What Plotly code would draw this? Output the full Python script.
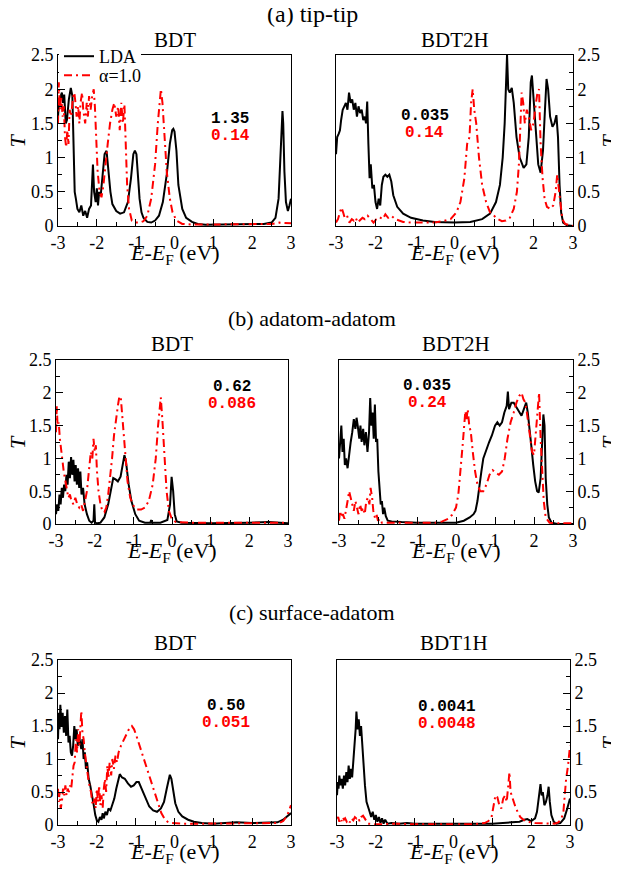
import plotly.graph_objects as go

# ---------------- data (energy E-E_F in eV, transmission T) ----------------
aL_lda = [(-3.0,1.6),(-2.97,1.85),(-2.93,1.9),(-2.9,1.95),(-2.87,1.8),(-2.84,1.92),(-2.8,1.5),(-2.77,1.55),
          (-2.72,1.85),(-2.67,2.02),(-2.63,1.9),(-2.6,1.3),(-2.57,0.5),(-2.54,0.4),(-2.5,0.25),(-2.45,0.2),
          (-2.4,0.3),(-2.35,0.15),(-2.3,0.22),(-2.25,0.12),(-2.2,0.25),(-2.15,0.3),(-2.12,0.85),(-2.1,0.9),
          (-2.07,0.5),(-2.03,0.35),(-2.0,0.55),(-1.97,0.3),(-1.94,0.5),(-1.9,0.45),(-1.85,0.75),(-1.8,1.05),
          (-1.75,1.1),(-1.7,0.8),(-1.65,0.5),(-1.6,0.32),(-1.5,0.22),(-1.4,0.18),(-1.3,0.2),(-1.2,0.35),
          (-1.12,0.7),(-1.06,1.05),(-1.02,1.1),(-0.98,1.05),(-0.94,0.75),(-0.9,0.4),(-0.85,0.2),(-0.8,0.12),
          (-0.7,0.06),(-0.6,0.05),(-0.5,0.08),(-0.4,0.15),(-0.3,0.35),(-0.2,0.75),(-0.12,1.2),(-0.06,1.4),
          (-0.03,1.42),(0.0,1.38),(0.05,1.1),(0.1,0.6),(0.2,0.25),(0.3,0.12),(0.45,0.06),(0.6,0.03),
          (0.8,0.02),(1.0,0.02),(1.5,0.02),(2.0,0.02),(2.3,0.03),(2.5,0.05),(2.6,0.12),(2.68,0.4),
          (2.73,1.0),(2.76,1.5),(2.78,1.68),(2.8,1.5),(2.83,0.8),(2.87,0.35),(2.92,0.22),(2.96,0.3),(3.0,0.4)]
aL_a = [(-3.0,1.5),(-2.98,2.1),(-2.95,1.7),(-2.92,1.9),(-2.88,1.6),(-2.85,1.75),(-2.82,1.3),(-2.79,1.15),
        (-2.76,1.4),(-2.73,1.2),(-2.7,1.7),(-2.66,1.6),(-2.62,1.85),(-2.58,1.95),(-2.55,1.8),(-2.52,1.6),
        (-2.48,1.75),(-2.45,1.5),(-2.42,1.8),(-2.38,1.95),(-2.35,1.7),(-2.3,1.5),(-2.26,1.8),(-2.23,1.6),
        (-2.2,1.9),(-2.16,1.7),(-2.12,1.9),(-2.08,2.0),(-2.05,1.75),(-2.02,1.3),(-1.98,0.8),(-1.93,0.5),
        (-1.88,0.42),(-1.83,0.6),(-1.78,0.9),(-1.72,1.2),(-1.66,1.5),(-1.6,1.7),(-1.55,1.8),(-1.5,1.6),
        (-1.45,1.75),(-1.41,1.4),(-1.37,1.8),(-1.33,1.5),(-1.29,1.78),(-1.26,1.2),(-1.22,0.6),(-1.17,0.25),
        (-1.1,0.08),(-1.0,0.05),(-0.9,0.05),(-0.8,0.07),(-0.7,0.15),(-0.6,0.4),(-0.5,0.9),(-0.43,1.5),
        (-0.38,1.9),(-0.35,2.0),(-0.31,1.8),(-0.26,1.3),(-0.2,0.8),(-0.12,0.4),(-0.05,0.2),(0.05,0.08),
        (0.2,0.03),(0.5,0.02),(1.0,0.02),(1.5,0.02),(2.0,0.02),(2.5,0.03),(2.7,0.05),(2.85,0.04),(3.0,0.04)]

aR_lda = [(-3.0,1.05),(-2.97,1.3),(-2.93,1.35),(-2.9,1.4),(-2.87,1.55),(-2.83,1.7),(-2.79,1.75),(-2.75,1.8),
          (-2.71,1.7),(-2.67,1.95),(-2.63,1.8),(-2.59,1.85),(-2.55,1.7),(-2.51,1.8),(-2.47,1.6),(-2.43,1.75),
          (-2.39,1.65),(-2.35,1.7),(-2.31,1.55),(-2.27,1.6),(-2.24,1.5),(-2.21,1.82),(-2.18,1.2),(-2.15,0.7),
          (-2.12,0.9),(-2.08,0.55),(-2.04,0.6),(-2.0,0.35),(-1.96,0.25),(-1.92,0.4),(-1.88,0.3),(-1.84,0.6),
          (-1.8,0.72),(-1.75,0.75),(-1.7,0.72),(-1.65,0.75),(-1.6,0.65),(-1.55,0.45),(-1.45,0.28),(-1.3,0.18),
          (-1.1,0.12),(-0.8,0.08),(-0.5,0.06),(0.0,0.05),(0.4,0.06),(0.7,0.1),(0.9,0.18),(1.05,0.35),
          (1.15,0.6),(1.22,1.0),(1.27,1.5),(1.31,2.2),(1.33,2.5),(1.36,2.0),(1.4,1.95),(1.45,2.02),
          (1.5,1.8),(1.57,1.3),(1.65,1.0),(1.75,0.85),(1.82,0.9),(1.88,1.3),(1.93,2.1),(1.96,2.2),
          (2.0,1.9),(2.06,1.4),(2.12,0.9),(2.18,0.78),(2.24,1.1),(2.29,1.7),(2.33,2.15),(2.37,2.0),
          (2.42,1.6),(2.48,1.45),(2.53,1.5),(2.58,1.62),(2.62,1.3),(2.66,0.6),(2.7,0.2),(2.75,0.05),
          (2.85,0.01),(3.0,0.0)]
aR_a = [(-3.0,0.05),(-2.95,0.1),(-2.9,0.2),(-2.86,0.27),(-2.82,0.2),(-2.78,0.12),(-2.72,0.15),(-2.66,0.05),
        (-2.6,0.1),(-2.55,0.08),(-2.5,0.12),(-2.45,0.05),(-2.4,0.08),(-2.33,0.12),(-2.27,0.1),(-2.2,0.15),
        (-2.12,0.1),(-2.05,0.05),(-1.98,0.1),(-1.9,0.13),(-1.82,0.1),(-1.75,0.17),(-1.68,0.12),(-1.6,0.15),
        (-1.5,0.1),(-1.4,0.08),(-1.3,0.06),(-1.1,0.05),(-0.8,0.05),(-0.5,0.05),(-0.3,0.07),(-0.1,0.1),
        (0.05,0.2),(0.15,0.35),(0.25,0.7),(0.32,1.2),(0.38,1.3),(0.42,1.8),(0.46,2.0),(0.5,1.7),
        (0.55,1.5),(0.62,1.0),(0.7,0.6),(0.8,0.35),(0.9,0.2),(1.0,0.15),(1.1,0.1),(1.2,0.07),(1.3,0.08),
        (1.4,0.12),(1.5,0.25),(1.58,0.5),(1.63,0.9),(1.67,1.5),(1.7,1.95),(1.74,1.8),(1.78,1.5),(1.83,1.7),
        (1.88,1.6),(1.94,1.4),(2.0,1.5),(2.05,1.75),(2.1,1.95),(2.14,2.0),(2.18,1.2),(2.23,0.7),(2.28,0.4),
        (2.34,0.28),(2.42,0.25),(2.5,0.3),(2.56,0.5),(2.6,0.75),(2.64,0.55),(2.68,0.3),(2.73,0.1),
        (2.8,0.03),(3.0,0.0)]

bL_lda = [(-3.0,0.15),(-2.97,0.3),(-2.94,0.2),(-2.91,0.45),(-2.88,0.3),(-2.85,0.55),(-2.82,0.4),(-2.79,0.6),
          (-2.76,0.5),(-2.73,0.75),(-2.7,0.6),(-2.67,0.95),(-2.64,0.7),(-2.61,1.02),(-2.58,0.75),(-2.55,0.98),
          (-2.52,0.65),(-2.49,0.9),(-2.46,0.6),(-2.43,0.85),(-2.4,0.55),(-2.37,0.8),(-2.34,0.45),(-2.3,0.55),
          (-2.26,0.3),(-2.2,0.15),(-2.14,0.05),(-2.08,0.02),(-2.03,0.05),(-2.01,0.3),(-1.99,0.02),(-1.93,0.01),
          (-1.85,0.02),(-1.75,0.1),(-1.65,0.3),(-1.58,0.55),(-1.52,0.7),(-1.46,0.68),(-1.4,0.65),(-1.33,0.72),
          (-1.27,0.9),(-1.23,1.05),(-1.19,0.95),(-1.12,0.6),(-1.05,0.35),(-0.95,0.15),(-0.85,0.05),(-0.7,0.02),
          (-0.56,0.02),(-0.54,0.06),(-0.52,0.02),(-0.3,0.02),(-0.12,0.06),(-0.05,0.3),(-0.01,0.72),(0.03,0.5),
          (0.07,0.15),(0.12,0.04),(0.25,0.02),(1.0,0.01),(2.0,0.02),(2.5,0.03),(3.0,0.01)]
bL_a = [(-3.0,1.4),(-2.98,1.8),(-2.96,1.5),(-2.93,1.55),(-2.9,1.3),(-2.87,1.1),(-2.84,1.0),(-2.8,0.8),
        (-2.76,0.65),(-2.72,0.5),(-2.68,0.4),(-2.64,0.45),(-2.6,0.35),(-2.55,0.3),(-2.5,0.4),(-2.45,0.3),
        (-2.4,0.25),(-2.35,0.3),(-2.3,0.2),(-2.25,0.35),(-2.2,0.5),(-2.15,0.8),(-2.1,1.1),(-2.06,1.0),
        (-2.03,1.3),(-2.0,1.1),(-1.97,1.2),(-1.94,0.8),(-1.9,0.5),(-1.85,0.3),(-1.8,0.2),(-1.75,0.18),
        (-1.7,0.25),(-1.65,0.45),(-1.6,0.7),(-1.55,1.0),(-1.5,1.35),(-1.45,1.6),(-1.4,1.8),(-1.36,1.95),
        (-1.32,1.9),(-1.28,1.6),(-1.22,1.1),(-1.15,0.65),(-1.08,0.4),(-1.0,0.28),(-0.9,0.22),(-0.8,0.22),
        (-0.7,0.25),(-0.6,0.35),(-0.5,0.6),(-0.42,1.0),(-0.36,1.5),(-0.32,1.8),(-0.29,1.93),(-0.25,1.6),
        (-0.2,1.0),(-0.14,0.5),(-0.08,0.2),(0.0,0.07),(0.1,0.03),(0.5,0.02),(1.0,0.02),(2.0,0.02),
        (2.5,0.02),(2.9,0.02),(3.0,0.04)]

bR_lda = [(-3.0,1.0),(-2.97,1.2),(-2.94,1.5),(-2.91,1.1),(-2.88,1.3),(-2.85,0.9),(-2.82,1.0),(-2.78,0.85),
          (-2.74,1.1),(-2.7,1.25),(-2.66,1.4),(-2.62,1.6),(-2.58,1.45),(-2.55,1.62),(-2.52,1.5),(-2.48,1.3),
          (-2.45,1.5),(-2.42,1.25),(-2.38,1.45),(-2.35,1.2),(-2.31,1.4),(-2.27,1.1),(-2.23,1.4),(-2.2,1.92),
          (-2.17,1.5),(-2.14,1.7),(-2.11,1.3),(-2.08,1.82),(-2.05,1.25),(-2.02,1.3),(-1.99,0.8),(-1.96,0.5),
          (-1.93,0.3),(-1.9,0.35),(-1.87,0.15),(-1.84,0.25),(-1.8,0.12),(-1.75,0.05),(-1.65,0.04),(-1.4,0.03),
          (-1.0,0.02),(-0.5,0.02),(0.0,0.02),(0.2,0.05),(0.35,0.1),(0.45,0.15),(0.5,0.2),(0.55,0.35),
          (0.6,0.6),(0.65,0.8),(0.7,1.0),(0.78,1.15),(0.85,1.25),(0.92,1.35),(1.0,1.5),(1.06,1.55),
          (1.12,1.5),(1.18,1.55),(1.24,1.7),(1.3,1.8),(1.33,2.02),(1.36,1.75),(1.42,1.85),(1.48,1.85),
          (1.55,1.78),(1.62,1.7),(1.68,1.65),(1.74,1.75),(1.8,1.85),(1.84,1.7),(1.88,1.5),(1.93,1.2),
          (1.98,0.9),(2.03,0.65),(2.08,0.5),(2.12,0.48),(2.17,0.7),(2.2,1.2),(2.24,1.67),(2.27,1.5),
          (2.3,0.7),(2.34,0.3),(2.38,0.1),(2.45,0.02),(2.6,0.0),(3.0,0.0)]
bR_a = [(-3.0,0.05),(-2.97,0.2),(-2.94,0.1),(-2.9,0.15),(-2.86,0.08),(-2.82,0.2),(-2.78,0.35),(-2.74,0.5),
        (-2.7,0.4),(-2.66,0.3),(-2.62,0.2),(-2.58,0.35),(-2.54,0.25),(-2.5,0.15),(-2.46,0.3),(-2.42,0.2),
        (-2.38,0.25),(-2.34,0.15),(-2.3,0.35),(-2.26,0.4),(-2.22,0.3),(-2.19,0.55),(-2.15,0.4),(-2.12,0.2),
        (-2.08,0.1),(-2.04,0.15),(-2.0,0.05),(-1.95,0.08),(-1.9,0.02),(-1.7,0.02),(-1.0,0.02),(-0.5,0.02),
        (-0.35,0.04),(-0.2,0.08),(-0.1,0.14),(0.0,0.25),(0.06,0.45),(0.12,0.8),(0.17,1.2),(0.21,1.5),
        (0.24,1.72),(0.27,1.6),(0.3,1.75),(0.34,1.5),(0.38,1.4),(0.43,1.1),(0.49,0.8),(0.55,0.6),(0.62,0.5),
        (0.7,0.5),(0.78,0.6),(0.86,0.75),(0.94,0.82),(1.02,0.78),(1.1,0.75),(1.18,0.8),(1.25,1.0),(1.32,1.3),
        (1.4,1.55),(1.48,1.7),(1.55,1.85),(1.62,1.95),(1.68,2.0),(1.73,1.9),(1.78,1.85),(1.84,1.6),(1.9,1.3),
        (1.95,1.1),(2.0,1.05),(2.05,1.4),(2.1,1.8),(2.13,2.0),(2.17,1.3),(2.21,0.8),(2.25,0.35),(2.3,0.1),
        (2.4,0.02),(2.6,0.01),(3.0,0.01)]

cL_lda = [(-3.0,1.3),(-2.98,1.7),(-2.96,1.45),(-2.94,1.82),(-2.91,1.5),(-2.88,1.7),(-2.85,1.4),(-2.82,1.65),
          (-2.79,1.35),(-2.76,1.75),(-2.73,1.25),(-2.7,1.35),(-2.67,1.1),(-2.64,1.05),(-2.61,1.2),(-2.58,1.5),
          (-2.55,1.3),(-2.52,1.45),(-2.49,1.2),(-2.46,1.35),(-2.43,1.25),(-2.4,1.15),(-2.37,1.3),(-2.34,1.0),
          (-2.31,1.1),(-2.28,0.85),(-2.25,0.95),(-2.21,0.7),(-2.17,0.6),(-2.12,0.45),(-2.08,0.3),(-2.04,0.15),
          (-2.0,0.07),(-1.96,0.05),(-1.92,0.12),(-1.88,0.08),(-1.85,0.18),(-1.82,0.1),(-1.78,0.2),(-1.74,0.15),
          (-1.7,0.25),(-1.65,0.22),(-1.6,0.3),(-1.55,0.4),(-1.5,0.55),(-1.45,0.7),(-1.41,0.77),(-1.35,0.72),
          (-1.28,0.7),(-1.2,0.63),(-1.12,0.58),(-1.05,0.6),(-0.98,0.65),(-0.92,0.65),(-0.85,0.55),(-0.75,0.4),
          (-0.65,0.28),(-0.55,0.22),(-0.45,0.2),(-0.35,0.25),(-0.27,0.35),(-0.2,0.55),(-0.15,0.7),(-0.12,0.76),
          (-0.08,0.7),(-0.03,0.5),(0.02,0.33),(0.1,0.2),(0.2,0.13),(0.35,0.08),(0.5,0.05),(0.7,0.03),
          (1.0,0.02),(1.3,0.03),(1.6,0.04),(2.0,0.03),(2.4,0.03),(2.65,0.04),(2.8,0.08),(2.9,0.13),(3.0,0.18)]
cL_a = [(-3.0,0.55),(-2.98,0.35),(-2.96,0.5),(-2.93,0.25),(-2.9,0.35),(-2.87,0.55),(-2.84,0.45),(-2.81,0.6),
        (-2.78,0.45),(-2.75,0.55),(-2.72,0.5),(-2.69,0.6),(-2.66,0.55),(-2.63,0.8),(-2.6,0.9),(-2.57,0.95),
        (-2.54,1.3),(-2.51,1.1),(-2.48,1.45),(-2.45,1.2),(-2.42,1.5),(-2.4,1.73),(-2.37,1.4),(-2.34,1.3),
        (-2.31,1.1),(-2.28,0.95),(-2.25,0.8),(-2.22,0.7),(-2.19,0.6),(-2.15,0.5),(-2.12,0.35),(-2.09,0.3),
        (-2.06,0.4),(-2.03,0.25),(-2.0,0.55),(-1.97,0.35),(-1.94,0.6),(-1.91,0.3),(-1.88,0.45),(-1.85,0.25),
        (-1.82,0.55),(-1.79,0.7),(-1.76,0.5),(-1.73,0.9),(-1.7,0.7),(-1.67,0.95),(-1.63,0.75),(-1.6,1.0),
        (-1.56,0.85),(-1.52,1.05),(-1.48,0.95),(-1.44,1.1),(-1.38,1.2),(-1.3,1.3),(-1.22,1.4),(-1.15,1.48),
        (-1.1,1.5),(-1.04,1.45),(-0.98,1.35),(-0.9,1.2),(-0.82,1.05),(-0.74,0.9),(-0.66,0.75),(-0.58,0.6),
        (-0.5,0.45),(-0.42,0.3),(-0.34,0.18),(-0.26,0.1),(-0.18,0.05),(-0.1,0.03),(0.2,0.02),(0.6,0.02),
        (1.0,0.02),(1.5,0.02),(2.0,0.02),(2.5,0.02),(2.7,0.03),(2.8,0.06),(2.9,0.14),(3.0,0.3)]

cR_lda = [(-3.0,0.45),(-2.98,0.65),(-2.96,0.55),(-2.94,0.75),(-2.91,0.6),(-2.88,0.7),(-2.85,0.55),(-2.82,0.75),
          (-2.79,0.6),(-2.76,0.8),(-2.73,0.65),(-2.7,0.9),(-2.67,0.7),(-2.64,0.85),(-2.61,0.72),(-2.58,0.95),
          (-2.55,1.1),(-2.52,1.45),(-2.5,1.72),(-2.47,1.45),(-2.44,1.6),(-2.41,1.35),(-2.38,1.5),(-2.35,1.2),
          (-2.32,0.9),(-2.28,0.6),(-2.24,0.35),(-2.2,0.25),(-2.16,0.2),(-2.12,0.12),(-2.08,0.2),(-2.04,0.08),
          (-2.0,0.15),(-1.96,0.05),(-1.92,0.12),(-1.88,0.03),(-1.84,0.1),(-1.8,0.02),(-1.76,0.08),(-1.7,0.02),
          (-1.6,0.03),(-1.4,0.02),(-1.2,0.03),(-1.0,0.02),(-0.5,0.02),(0.0,0.01),(0.5,0.02),(1.0,0.02),
          (1.5,0.04),(1.7,0.05),(1.82,0.08),(1.9,0.09),(2.0,0.06),(2.1,0.1),(2.15,0.2),(2.2,0.45),(2.24,0.62),
          (2.27,0.45),(2.3,0.5),(2.34,0.3),(2.38,0.35),(2.42,0.45),(2.45,0.58),(2.48,0.35),(2.52,0.15),
          (2.58,0.05),(2.65,0.02),(2.75,0.03),(2.85,0.1),(2.93,0.25),(3.0,0.4)]
cR_a = [(-3.0,0.1),(-2.97,0.12),(-2.94,0.05),(-2.91,0.1),(-2.88,0.06),(-2.85,0.12),(-2.82,0.08),(-2.79,0.1),
        (-2.75,0.05),(-2.71,0.08),(-2.67,0.04),(-2.63,0.1),(-2.58,0.07),(-2.54,0.12),(-2.5,0.1),(-2.46,0.12),
        (-2.42,0.06),(-2.38,0.12),(-2.33,0.14),(-2.29,0.1),(-2.25,0.05),(-2.2,0.02),(-2.0,0.01),(-1.5,0.02),
        (-1.0,0.01),(-0.5,0.01),(0.0,0.01),(0.5,0.01),(0.8,0.03),(0.9,0.06),(0.98,0.12),(1.03,0.3),
        (1.08,0.45),(1.13,0.42),(1.18,0.3),(1.23,0.25),(1.28,0.4),(1.33,0.45),(1.37,0.35),(1.41,0.6),
        (1.44,0.8),(1.47,0.5),(1.52,0.4),(1.58,0.3),(1.65,0.2),(1.72,0.12),(1.8,0.08),(1.9,0.05),(2.1,0.03),
        (2.4,0.02),(2.6,0.02),(2.7,0.04),(2.78,0.1),(2.83,0.2),(2.87,0.5),(2.9,0.7),(2.95,0.9),(3.0,1.2)]

section_titles = ["(a) tip-tip", "(b) adatom-adatom", "(c) surface-adatom"]
panel_titles = ["BDT", "BDT2H", "BDT", "BDT2H", "BDT", "BDT1H"]
lda_values = ["1.35", "0.035", "0.62", "0.035", "0.50", "0.0041"]
alpha_values = ["0.14", "0.14", "0.086", "0.24", "0.051", "0.0048"]
x_tickvals = [-3, -2, -1, 0, 1, 2, 3]
x_ticktext = ["-3", "-2", "-1", "0", "1", "2", "3"]
y_tickvals = [0, 0.5, 1, 1.5, 2, 2.5]
y_ticktext = ["0", "0.5", "1", "1.5", "2", "2.5"]
series_names = ["LDA", "\u03b1=1.0"]

# ---------------- layout geometry (window pixels) ----------------
WIN_W, WIN_H = 619, 876
OFF = 8  # default page body margin
W, H = WIN_W - OFF, WIN_H - OFF
SERIF = "Liberation Serif, Times New Roman, DejaVu Serif, serif"
MONO = "Liberation Mono, DejaVu Sans Mono, monospace"
rows_px = [(55, 226), (360, 524), (660, 825)]
left_px = [(58, 291), (56, 288), (58, 291)]
right_px = [(336, 573), (339, 573), (337, 570)]
section_y = [14, 318, 612]
section_size = [24, 22, 22]
sub_y = [40, 344, 643]
axtitle_y = [254, 552, 853]
num_pos = [(230, 119), (425, 116), (232, 387), (427, 386), (226, 706), (447, 707)]

curves = [(aL_lda, aL_a), (aR_lda, aR_a), (bL_lda, bL_a), (bR_lda, bR_a), (cL_lda, cL_a), (cR_lda, cR_a)]

fig = go.Figure()
annotations = []


def px2x(p):
    return (p - OFF) / W


def px2y(p):
    return 1 - (p - OFF) / H


for i, (lda, alp) in enumerate(curves):
    r, c = divmod(i, 2)
    n = i + 1
    xs = "x" if n == 1 else f"x{n}"
    ys = "y" if n == 1 else f"y{n}"
    fig.add_trace(go.Scatter(x=[p[0] for p in lda], y=[p[1] for p in lda], mode="lines",
                             line=dict(color="black", width=2), name=series_names[0],
                             showlegend=(i == 0), legend="legend", xaxis=xs, yaxis=ys))
    fig.add_trace(go.Scatter(x=[p[0] for p in alp], y=[p[1] for p in alp], mode="lines",
                             line=dict(color="#ff0000", width=2, dash="8px,4px,2px,4px"),
                             name=series_names[1], showlegend=(i == 0), legend="legend2",
                             xaxis=xs, yaxis=ys))
    top, bot = rows_px[r]
    xl, xr = (left_px if c == 0 else right_px)[r]
    xkey = "xaxis" if n == 1 else f"xaxis{n}"
    ykey = "yaxis" if n == 1 else f"yaxis{n}"
    fig.update_layout(**{
        xkey: dict(domain=[px2x(xl), px2x(xr)], anchor=ys, range=[-3, 3], automargin=False,
                   tickvals=x_tickvals, ticktext=x_ticktext, ticks="inside", ticklen=7,
                   tickwidth=1, tickcolor="black",
                   minor=dict(ticks="inside", dtick=0.5, tick0=0, ticklen=4, tickcolor="black"),
                   showline=True, linecolor="black", linewidth=1, mirror=True,
                   showgrid=False, zeroline=False,
                   tickfont=dict(family=SERIF, size=18, color="black")),
        ykey: dict(domain=[px2y(bot), px2y(top)], anchor=xs, range=[0, 2.5], automargin=False,
                   side="left" if c == 0 else "right",
                   tickvals=y_tickvals, ticktext=y_ticktext, ticks="inside", ticklen=7,
                   tickwidth=1, tickcolor="black",
                   minor=dict(ticks="inside", dtick=0.25, tick0=0, ticklen=4, tickcolor="black"),
                   showline=True, linecolor="black", linewidth=1, mirror=True,
                   showgrid=False, zeroline=False,
                   tickfont=dict(family=SERIF, size=18, color="black")),
    })
    cx = (xl + xr) / 2
    annotations.append(dict(x=px2x(cx), y=px2y(sub_y[r]), xref="paper", yref="paper",
                            text=panel_titles[i], showarrow=False, xanchor="center", yanchor="middle",
                            font=dict(family=SERIF, size=21, color="black")))
    annotations.append(dict(x=px2x(cx), y=px2y(axtitle_y[r]), xref="paper", yref="paper",
                            text="<i>E</i>-<i>E</i><sub>F</sub> (eV)", showarrow=False,
                            xanchor="center", yanchor="middle",
                            font=dict(family=SERIF, size=22, color="black")))
    annotations.append(dict(x=px2x(17 if c == 0 else 609), y=px2y((top + bot) / 2), xref="paper",
                            yref="paper", text="<i>T</i>", showarrow=False, textangle=-90,
                            xanchor="center", yanchor="middle",
                            font=dict(family=SERIF, size=22, color="black")))
    nx, ny = num_pos[i]
    annotations.append(dict(x=px2x(nx), y=px2y(ny), xref="paper", yref="paper",
                            text="<b>" + lda_values[i] + "</b>", showarrow=False,
                            xanchor="center", yanchor="middle",
                            font=dict(family=MONO, size=16, color="black")))
    annotations.append(dict(x=px2x(nx), y=px2y(ny + 17), xref="paper", yref="paper",
                            text="<b>" + alpha_values[i] + "</b>", showarrow=False,
                            xanchor="center", yanchor="middle",
                            font=dict(family=MONO, size=16, color="#ff0000")))

for r in range(3):
    annotations.append(dict(x=px2x(312), y=px2y(section_y[r]), xref="paper", yref="paper",
                            text=section_titles[r], showarrow=False, xanchor="center",
                            yanchor="middle",
                            font=dict(family=SERIF, size=section_size[r], color="black")))

legend_style = dict(xanchor="left", yanchor="top", borderwidth=0, itemwidth=30,
                    tracegroupgap=0, font=dict(family=SERIF, size=18, color="black"))
fig.update_layout(
    width=W, height=H, margin=dict(l=0, r=0, t=0, b=0),
    paper_bgcolor="white", plot_bgcolor="white",
    annotations=annotations,
    legend=dict(x=px2x(59), y=px2y(38), bgcolor="white", **legend_style),
    legend2=dict(x=px2x(59), y=px2y(57), bgcolor="rgba(0,0,0,0)", **legend_style),
    font=dict(family=SERIF, color="black"),
)

fig.write_html("out.html")
